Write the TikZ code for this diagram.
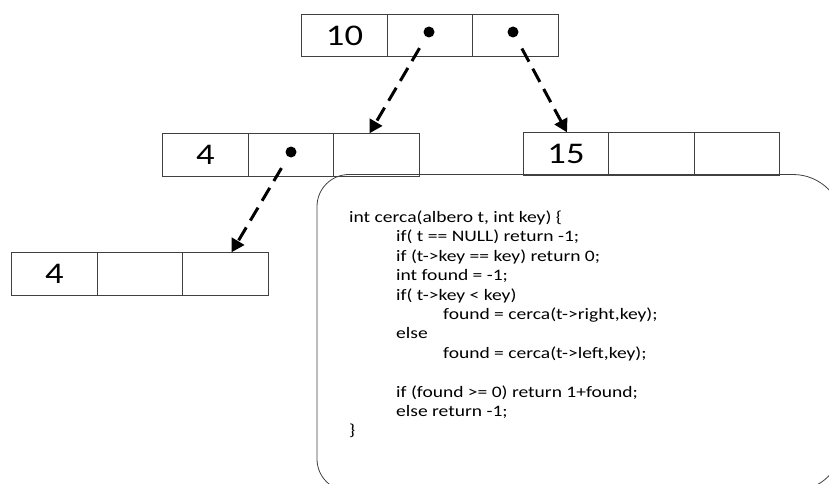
\documentclass[tikz,border=0pt]{standalone}
\usepackage{fontspec}
\setmainfont[FakeStretch=1.22]{Carlito}
\usetikzlibrary{arrows.meta}

\begin{document}
\begin{tikzpicture}[x=1pt,y=-1pt,
  cella/.style={draw=black!75,line width=0.8pt,minimum width=85.5pt,minimum height=42.5pt,inner sep=0pt,font=\fontsize{30}{36}\selectfont},
  punto/.style={circle,fill=black,minimum size=11pt,inner sep=0pt},
  freccia/.style={line width=3pt,dash pattern=on 15pt off 8pt,-{Triangle[length=13pt,width=14pt]},shorten <=13pt}]
\clip (0,0) rectangle (829,484);

% radice
\node[cella] (a1) at (344.5,35.5) {10};
\node[cella] (a2) at (430,35.5) {};
\node[cella] (a3) at (515.5,35.5) {};
\node[punto] (pa2) at (429,32) {};
\node[punto] (pa3) at (513,32) {};

% figli
\node[cella] (b1) at (205.5,155) {4};
\node[cella] (b2) at (291,155) {};
\node[cella] (b3) at (376.5,155) {};
\node[punto] (pb2) at (291,152) {};
\node[cella] (c1) at (566,154) {15};
\node[cella] (c2) at (651.5,154) {};
\node[cella] (c3) at (737,154) {};

% nipote
\node[cella] (d1) at (54.5,274) {4};
\node[cella] (d2) at (140,274) {};
\node[cella] (d3) at (225.5,274) {};

\draw[freccia] (pa2) -- ([xshift=-7pt]b3.north);
\draw[freccia] (pa3) -- ([xshift=1pt]c1.north);
\draw[freccia] (pb2) -- ([xshift=6pt]d3.north);

% codice
\draw[draw=black!75,line width=0.8pt] (560,174.5) [rounded corners=50pt] -- (843,174.5) -- (843,491) -- (560,491)
  [rounded corners=32pt] -- (317,491) -- (317,174.5) -- cycle;
\node[anchor=base west,inner sep=0pt,align=left,font=\fontsize{16}{19.4}\selectfont] (codice) at (349,435.9)
  {int cerca(albero t, int key) \{\\
  \hspace*{47pt}if( t == NULL) return -1;\\
  \hspace*{47pt}if (t->key == key) return 0;\\
  \hspace*{47pt}int found = -1;\\
  \hspace*{47pt}if( t->key < key)\\
  \hspace*{94pt}found = cerca(t->right,key);\\
  \hspace*{47pt}else\\
  \hspace*{94pt}found = cerca(t->left,key);\\[19.4pt]
  \hspace*{47pt}if (found >= 0) return 1+found;\\
  \hspace*{47pt}else return -1;\\
  \}};
\end{tikzpicture}
\end{document}
